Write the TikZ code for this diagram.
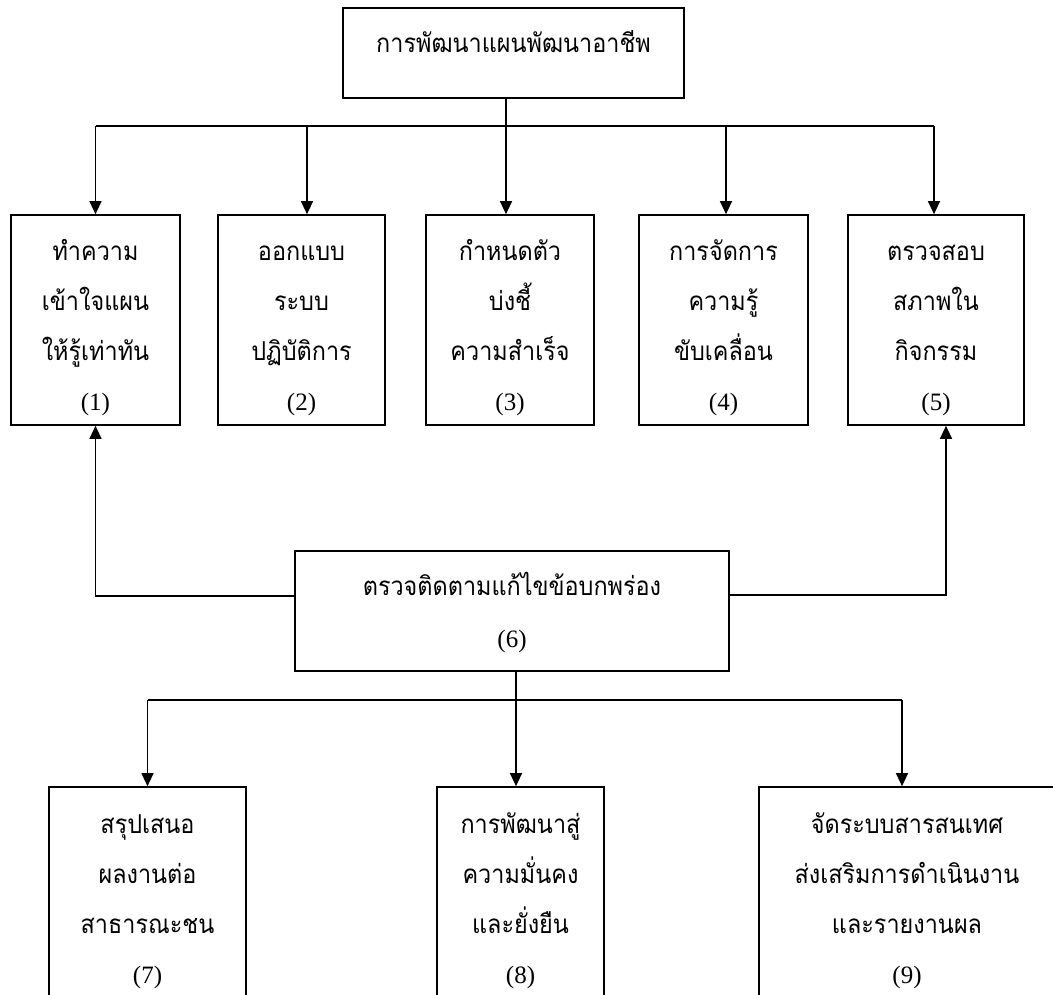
\documentclass[tikz,border=0pt]{standalone}
\usepackage{fontspec}
\setmainfont{Liberation Serif}
\newfontfamily\thaifont[Script=Thai,FakeStretch=0.9]{Loma}
\usepackage{tikz}
\usetikzlibrary{arrows.meta}
\tikzset{bx/.style={draw,line width=1.7pt,inner sep=0pt,minimum height=210pt,
  font=\thaifont\fontsize{26}{50}\selectfont}}
\tikzset{bus/.style={line width=2.2pt}}
\newcommand{\stepnum}[1]{{\rmfamily\fontsize{25}{50}\selectfont(#1)}}
% lines hang from the first baseline; #1 = room kept below it
\newcommand{\lines}[2]{\raisebox{0pt}[0pt][#1]{\begin{tabular}[t]{@{}c@{}}#2\end{tabular}}}

\begin{document}
\begin{tikzpicture}[x=1pt,y=-1pt,line width=1.4pt,>={Triangle[length=13pt,width=12pt]}]
        \useasboundingbox (0,0) rectangle (1053,995);
        \clip (0,0) rectangle (1053,995);
        \node[bx,minimum width=341pt,minimum height=90pt] (A) at (513.5,53) {\lines{0pt}{การพัฒนาแผนพัฒนาอาชีพ}};
        % first row
        \node[bx,minimum width=169pt] (B) at (95.5,320) {\lines{118pt}{ทำความ\\เข้าใจแผน\\ให้รู้เท่าทัน\\\stepnum{1}}};
        \node[bx,minimum width=167pt] (C) at (301.5,320) {\lines{118pt}{ออกแบบ\\ระบบ\\ปฏิบัติการ\\\stepnum{2}}};
        \node[bx,minimum width=168pt] (D) at (510,320) {\lines{118pt}{กำหนดตัว\\บ่งชี้\\ความสำเร็จ\\\stepnum{3}}};
        \node[bx,minimum width=169pt] (E) at (723.5,320) {\lines{118pt}{การจัดการ\\ความรู้\\ขับเคลื่อน\\\stepnum{4}}};
        \node[bx,minimum width=176pt] (F) at (936,320) {\lines{118pt}{ตรวจสอบ\\สภาพใน\\กิจกรรม\\\stepnum{5}}};
        % follow-up
        \node[bx,minimum width=434pt,minimum height=120pt,font=\thaifont\fontsize{26}{52}\selectfont] (G) at (512,611) {\lines{32pt}{ตรวจติดตามแก้ไขข้อบกพร่อง\\\stepnum{6}}};
        % last row
        \node[bx,minimum width=197pt] (H) at (147.5,892) {\lines{118pt}{สรุปเสนอ\\ผลงานต่อ\\สาธารณะชน\\\stepnum{7}}};
        \node[bx,minimum width=167pt] (I) at (520.5,892) {\lines{118pt}{การพัฒนาสู่\\ความมั่นคง\\และยั่งยืน\\\stepnum{8}}};
        \node[bx,minimum width=296pt] (J) at (907,892) {\lines{118pt}{จัดระบบสารสนเทศ\\ส่งเสริมการดำเนินงาน\\และรายงานผล\\\stepnum{9}}};
        \coordinate (top) at (0,126);
        \coordinate (low) at (0,700);
        \draw[bus] (B.north |- top) -- ([xshift=-2pt]F.north |- top);
        \draw[->] ([xshift=-7.5pt]A.south) -- ([xshift=-7.5pt]A.south |- D.north);
        \draw[->] (B.north |- top) -- (B.north);
        \draw[->] ([xshift=5.5pt]C.north |- top) -- ([xshift=5.5pt]C.north);
        \draw[->] ([xshift=2.5pt]E.north |- top) -- ([xshift=2.5pt]E.north);
        \draw[->] ([xshift=-2pt]F.north |- top) -- ([xshift=-2pt]F.north);
        \draw[->] ([yshift=15pt]G.west) -| (B.south);
        \draw[->] ([yshift=16pt]G.east) -| ([xshift=10pt]F.south);
        \draw[bus] (H.north |- low) -- ([xshift=-5pt]J.north |- low);
        \draw[->] ([xshift=4pt]G.south) -- ([xshift=4pt]G.south |- I.north);
        \draw[->] (H.north |- low) -- (H.north);
        \draw[->] ([xshift=-5pt]J.north |- low) -- ([xshift=-5pt]J.north);
      \end{tikzpicture}
\end{document}
